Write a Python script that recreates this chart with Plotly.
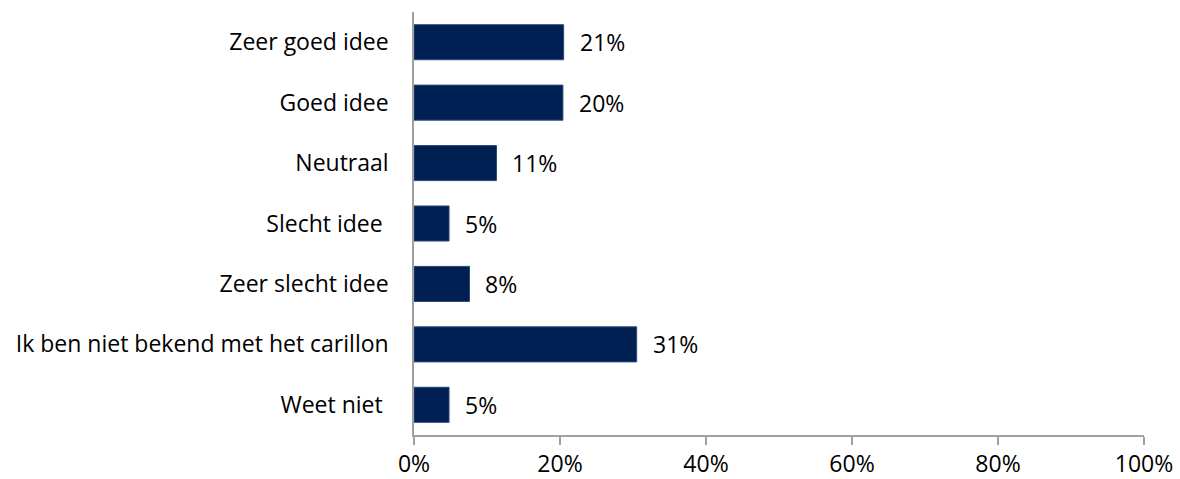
import plotly.graph_objects as go

categories = ["Zeer goed idee", "Goed idee", "Neutraal", "Slecht idee ",
              "Zeer slecht idee", "Ik ben niet bekend met het carillon", "Weet niet "]
values = [20.5, 20.4, 11.3, 4.8, 7.6, 30.5, 4.8]
labels = ["21%", "20%", "11%", "5%", "8%", "31%", "5%"]
x_ticks = [0, 20, 40, 60, 80, 100]
x_tick_labels = ["0%", "20%", "40%", "60%", "80%", "100%"]

FONT = "Open Sans"
FS = 23
fig = go.Figure()
fig.add_trace(go.Bar(
    y=categories, x=values, orientation="h",
    marker=dict(color="#002054", line=dict(color="#2a4a7a", width=1)),
    width=0.58,
    hoverinfo="skip",
))
for c, v, l in zip(categories, values, labels):
    fig.add_annotation(x=v, y=c, text=l, showarrow=False, xanchor="left",
                       xshift=14, font=dict(family=FONT, size=FS, color="#000000"))

fig.update_layout(
    width=1180, height=479,
    margin=dict(l=414, r=36, t=12, b=44, autoexpand=False),
    plot_bgcolor="white", paper_bgcolor="white",
    showlegend=False,
    font=dict(family=FONT, size=FS, color="#000000"),
)
fig.update_xaxes(range=[0, 100], tickvals=x_ticks, ticktext=x_tick_labels,
                 showgrid=False, zeroline=False, showline=True, linecolor="#a0a0a0",
                 linewidth=1.5, ticks="outside", ticklen=8, tickcolor="#a0a0a0",
                 tickwidth=1.5, automargin=False,
                 tickfont=dict(family=FONT, size=FS, color="#000000"))
fig.update_yaxes(autorange="reversed", showgrid=False, zeroline=False, showline=True,
                 linecolor="#a0a0a0", linewidth=1.5, ticks="", ticklabelstandoff=19,
                 automargin=False,
                 tickfont=dict(family=FONT, size=FS, color="#000000"))

fig.write_html("out.html", config={"displayModeBar": False},
               post_script="document.body.style.margin='0';")
